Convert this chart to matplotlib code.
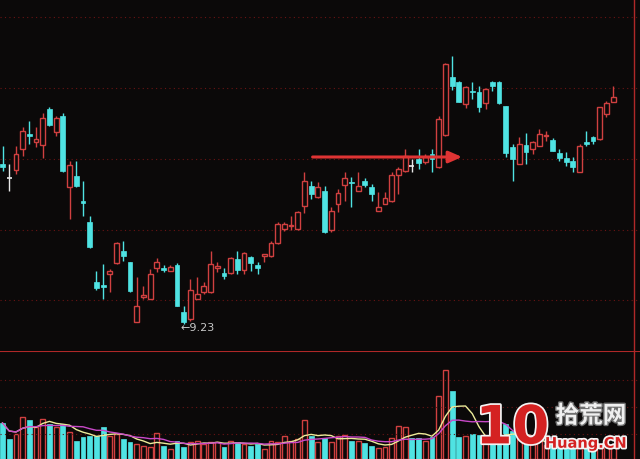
import matplotlib
matplotlib.use('Agg')
import matplotlib.pyplot as plt
import matplotlib.patheffects as pe
import numpy as np
import pandas as pd

plt.rcParams['font.family'] = ['Noto Sans CJK SC', 'DejaVu Sans']
plt.rcParams['axes.unicode_minus'] = False

bg = '#0b0909'
up_color = '#d04040'
down_color = '#4fe3e3'
flat_color = '#e8e8e8'
grid_color = '#6a1414'

# daily prices (open / high / low / close)
opens = [10.83, 10.69, 10.77, 10.98, 11.13, 11.05, 11.02, 11.38, 11.15, 11.31,
         10.60, 10.71, 10.46, 10.25, 9.65, 9.62, 9.73, 9.84, 9.96, 9.85,
         9.25, 9.50, 9.48, 9.79, 9.79, 9.76, 9.82, 9.35, 9.28, 9.48,
         9.55, 9.55, 9.79, 9.74, 9.74, 9.88, 9.77, 9.90, 9.82, 9.91,
         9.91, 10.04, 10.18, 10.21, 10.18, 10.41, 10.61, 10.50, 10.56, 10.17,
         10.43, 10.62, 10.65, 10.56, 10.66, 10.60, 10.36, 10.43, 10.46, 10.72,
         10.76, 10.81, 10.88, 10.85, 10.93, 10.80, 11.12, 11.70, 11.65, 11.43,
         11.56, 11.55, 11.44, 11.65, 11.65, 11.41, 11.00, 10.83, 11.02, 10.98,
         11.01, 11.11, 11.07, 10.94, 10.89, 10.86, 10.75, 11.05, 11.10, 11.08,
         11.33, 11.45]
highs = [11.01, 10.83, 11.01, 11.20, 11.26, 11.20, 11.34, 11.40, 11.31, 11.34,
         10.86, 10.86, 10.66, 10.31, 9.76, 9.83, 9.78, 10.05, 10.06, 9.85,
         9.70, 9.61, 9.78, 9.89, 9.82, 9.82, 9.84, 9.41, 9.68, 9.70,
         9.65, 9.96, 9.85, 9.79, 9.90, 9.96, 9.95, 9.91, 9.85, 9.93,
         10.06, 10.25, 10.25, 10.31, 10.36, 10.75, 10.66, 10.65, 10.61, 10.40,
         10.58, 10.75, 10.70, 10.75, 10.69, 10.63, 10.55, 10.55, 10.75, 10.80,
         10.98, 10.88, 10.98, 10.93, 10.98, 11.31, 11.84, 11.91, 11.66, 11.61,
         11.65, 11.61, 11.59, 11.66, 11.66, 11.41, 11.03, 11.10, 11.14, 11.06,
         11.18, 11.16, 11.09, 10.98, 10.95, 10.90, 11.03, 11.16, 11.11, 11.40,
         11.46, 11.61]
lows = [10.76, 10.56, 10.73, 10.91, 11.03, 11.00, 10.89, 11.21, 11.11, 10.75,
        10.28, 10.60, 10.31, 9.99, 9.57, 9.48, 9.55, 9.83, 9.86, 9.55,
        9.25, 9.48, 9.48, 9.75, 9.75, 9.76, 9.41, 9.23, 9.26, 9.48,
        9.53, 9.54, 9.75, 9.68, 9.73, 9.73, 9.73, 9.76, 9.73, 9.85,
        9.90, 10.03, 10.16, 10.17, 10.17, 10.34, 10.48, 10.49, 10.14, 10.15,
        10.35, 10.46, 10.40, 10.56, 10.60, 10.46, 10.36, 10.43, 10.45, 10.53,
        10.75, 10.75, 10.78, 10.83, 10.75, 10.79, 11.11, 11.57, 11.45, 11.39,
        11.48, 11.35, 11.38, 11.56, 11.43, 10.90, 10.66, 10.83, 10.83, 10.93,
        11.01, 11.06, 10.96, 10.86, 10.81, 10.75, 10.75, 11.01, 11.03, 11.07,
        11.30, 11.45]
closes = [10.80, 10.69, 10.93, 11.16, 11.11, 11.08, 11.29, 11.22, 11.29, 10.76,
          10.82, 10.61, 10.44, 10.00, 9.59, 9.60, 9.76, 10.04, 9.91, 9.56,
          9.41, 9.52, 9.73, 9.85, 9.77, 9.80, 9.41, 9.25, 9.57, 9.53,
          9.61, 9.83, 9.81, 9.71, 9.89, 9.77, 9.94, 9.84, 9.79, 9.93,
          10.04, 10.23, 10.23, 10.22, 10.35, 10.66, 10.53, 10.60, 10.15, 10.36,
          10.54, 10.69, 10.64, 10.61, 10.62, 10.53, 10.40, 10.49, 10.72, 10.78,
          10.91, 10.81, 10.84, 10.90, 10.88, 11.28, 11.83, 11.61, 11.45, 11.60,
          11.55, 11.40, 11.58, 11.61, 11.44, 10.94, 10.88, 11.03, 10.95, 11.05,
          11.13, 11.12, 10.96, 10.89, 10.85, 10.80, 11.01, 11.03, 11.06, 11.40,
          11.44, 11.50]
volumes = [36, 20, 25, 42, 39, 32, 40, 35, 32, 35,
           27, 18, 22, 23, 23, 32, 23, 25, 20, 17,
           15, 13, 12, 26, 13, 10, 18, 12, 17, 18,
           15, 17, 17, 12, 18, 17, 15, 13, 15, 10,
           18, 17, 23, 18, 20, 39, 23, 17, 21, 17,
           23, 24, 18, 18, 16, 13, 11, 12, 21, 33,
           32, 21, 21, 18, 22, 63, 89, 68, 22, 23,
           25, 24, 19, 21, 21, 35, 28, 20, 18, 15,
           18, 14, 16, 13, 12, 12, 16, 12, 11, 14,
           13, 12]

low_label = '9.23'
low_index = 27
arrow_from = 45.8
arrow_to = 68.9
arrow_level = 10.90
price_grid = [12.30, 11.59, 10.88, 10.17, 9.47]
vol_grid = [79, 52, 25]

n = len(closes)
x = np.arange(n)
o = np.array(opens)
c = np.array(closes)
h = np.array(highs)
l = np.array(lows)
vol = np.array(volumes)

colors = []
for i in range(n):
    if c[i] > o[i]:
        colors.append(up_color)
    elif c[i] < o[i]:
        colors.append(down_color)
    else:
        colors.append(flat_color)

fig = plt.figure(figsize=(6.4, 4.6), dpi=100, facecolor=bg)
ax = fig.add_axes([0, 108 / 460, 1, 352 / 460])
vax = fig.add_axes([0, 0, 1, 108 / 460])

xlim = (-0.373, 95.0)
for a in (ax, vax):
    a.set_facecolor(bg)
    a.set_xlim(*xlim)
    for s in a.spines.values():
        s.set_visible(False)
    a.set_xticks([])
    a.set_yticks([])
    a.axvline(94.1, color='#b02828', lw=1.0)

ax.set_ylim(8.96, 12.48)
vax.set_ylim(0, 108)

for g in price_grid:
    ax.axhline(g, color=grid_color, lw=0.8, ls=(0, (1, 3)))
for g in vol_grid:
    vax.axhline(g, color=grid_color, lw=0.8, ls=(0, (1, 3)))
vax.axhline(108, color='#b02828', lw=1.5)

w = 0.72
# wicks then bodies
ax.vlines(x, l, h, colors=colors, lw=1.0, zorder=2)
for i in range(n):
    bot = min(o[i], c[i])
    ht = max(abs(c[i] - o[i]), 0.012)
    if colors[i] == up_color:
        ax.bar(x[i], ht, w, bottom=bot, facecolor=bg, edgecolor=up_color, lw=1.0, zorder=3)
    elif colors[i] == down_color:
        ax.bar(x[i], ht, w, bottom=bot, facecolor=down_color, edgecolor=down_color, lw=0.5, zorder=3)
    else:
        ax.hlines(o[i], x[i] - w / 2, x[i] + w / 2, colors=flat_color, lw=1.2, zorder=3)

# low marker
ax.text(low_index - 0.45, l[low_index] - 0.03, '\u2190' + low_label, color='#c8c8c8',
        fontsize=8, va='center', ha='left', family=['DejaVu Sans'])

# horizontal arrow
ax.annotate('', xy=(arrow_to, arrow_level), xytext=(arrow_from, arrow_level),
            arrowprops=dict(arrowstyle='-|>,head_length=0.8,head_width=0.35',
                            color='#e03434', lw=2.2), zorder=5)

# volume
for i in range(n):
    if colors[i] == up_color:
        vax.bar(x[i], vol[i], w, facecolor=bg, edgecolor=up_color, lw=1.0)
    else:
        vax.bar(x[i], vol[i], w, facecolor=down_color, edgecolor=down_color, lw=0.5)

ma5 = pd.Series(vol).rolling(5, min_periods=1).mean()
ma10 = pd.Series(vol).rolling(10, min_periods=1).mean()
vax.plot(x, ma5, color='#ecec9a', lw=1.0, zorder=4)
vax.plot(x, ma10, color='#c848c8', lw=1.0, zorder=4)

# watermark
outline = [pe.withStroke(linewidth=2.5, foreground='#f4f4f4')]
fig.text(0.858, 0.01, '10', color='#d42222', fontsize=38, fontweight='bold',
         ha='right', va='bottom', family=['Liberation Sans Narrow', 'DejaVu Sans'],
         path_effects=outline, zorder=10)
fig.text(0.868, 0.068, '拾荒网', color='#f0f0f0', fontsize=17, ha='left', va='bottom',
         fontweight='bold', path_effects=[pe.withStroke(linewidth=2, foreground='#707070')],
         zorder=10)
fig.text(0.98, 0.018, 'Huang.CN', color='#d42222', fontsize=10.5, fontweight='bold',
         ha='right', va='bottom', family=['DejaVu Sans'], path_effects=outline, zorder=10)

fig.savefig('out.png', dpi=100, facecolor=bg)
